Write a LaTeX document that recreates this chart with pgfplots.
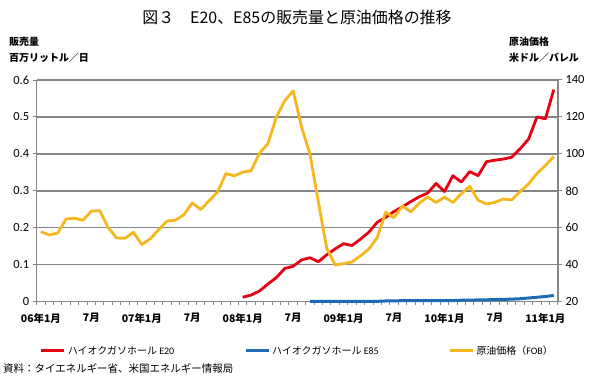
\documentclass[border=0pt]{standalone}
\usepackage{fontspec}
\usepackage{pgfplots}
\pgfplotsset{compat=1.18}
\setmainfont{Carlito}
\newfontfamily\jp{Noto Sans CJK JP}
\definecolor{e20}{RGB}{230,0,18}
\definecolor{e85}{RGB}{31,106,183}
\definecolor{oil}{RGB}{245,183,30}
\definecolor{gridgray}{RGB}{134,134,134}

\pgfplotstableread{
x v
24.5 0.012
25.5 0.018
26.5 0.029
27.5 0.048
28.5 0.065
29.5 0.090
30.5 0.096
31.5 0.113
32.5 0.119
33.5 0.108
34.5 0.127
35.5 0.143
36.5 0.157
37.5 0.152
38.5 0.169
39.5 0.188
40.5 0.215
41.5 0.228
42.5 0.244
43.5 0.257
44.5 0.271
45.5 0.284
46.5 0.294
47.5 0.320
48.5 0.298
49.5 0.341
50.5 0.324
51.5 0.352
52.5 0.341
53.5 0.379
54.5 0.383
55.5 0.386
56.5 0.391
57.5 0.414
58.5 0.440
59.5 0.500
60.5 0.495
61.5 0.574
}\eTwenty

\pgfplotstableread{
x v
32.5 0.001
33.5 0.001
34.5 0.001
35.5 0.001
36.5 0.001
37.5 0.001
38.5 0.001
39.5 0.001
40.5 0.001
41.5 0.002
42.5 0.002
43.5 0.003
44.5 0.003
45.5 0.003
46.5 0.003
47.5 0.003
48.5 0.003
49.5 0.003
50.5 0.004
51.5 0.004
52.5 0.005
53.5 0.005
54.5 0.006
55.5 0.006
56.5 0.007
57.5 0.008
58.5 0.010
59.5 0.012
60.5 0.014
61.5 0.017
}\eEightyFive

\pgfplotstableread{
x p
0.5 57.9
1.5 56.1
2.5 57.2
3.5 64.8
4.5 65.2
5.5 64.1
6.5 69.0
7.5 69.3
8.5 60.1
9.5 54.5
10.5 54.3
11.5 57.6
12.5 50.9
13.5 54.0
14.5 58.9
15.5 63.7
16.5 64.1
17.5 67.0
18.5 73.5
19.5 69.9
20.5 74.6
21.5 79.3
22.5 89.4
23.5 88.1
24.5 90.1
25.5 91.0
26.5 100.4
27.5 105.5
28.5 119.9
29.5 128.8
30.5 134.2
31.5 114.5
32.5 100.0
33.5 74.0
34.5 48.9
35.5 39.9
36.5 40.6
37.5 41.5
38.5 44.8
39.5 48.5
40.5 54.7
41.5 68.4
42.5 65.5
43.5 71.9
44.5 68.6
45.5 73.3
46.5 76.7
47.5 73.7
48.5 76.6
49.5 73.7
50.5 78.4
51.5 82.5
52.5 74.9
53.5 72.9
54.5 73.8
55.5 75.6
56.5 75.1
57.5 79.6
58.5 83.8
59.5 89.4
60.5 93.7
61.5 98.6
}\oilprice

\begin{document}
\begin{tikzpicture}
\useasboundingbox (-36.7bp,-76.3bp) rectangle (558.3bp,301.7bp);
\node[font=\jp\fontsize{16}{18}\selectfont, inner sep=0] at (260.3bp,284.7bp) {図３　E20、E85の販売量と原油価格の推移};
\node[anchor=west,font=\jp\bfseries\fontsize{10}{12}\selectfont, inner sep=0] at (-27.7bp,259.7bp) {販売量};
\node[anchor=west,font=\jp\bfseries\fontsize{10}{12}\selectfont, inner sep=0] at (-27.7bp,243.7bp) {百万リットル／日};
\node[anchor=west,font=\jp\bfseries\fontsize{10}{12}\selectfont, inner sep=0] at (472.3bp,259.7bp) {原油価格};
\node[anchor=west,font=\jp\bfseries\fontsize{10}{12}\selectfont, inner sep=0] at (472.3bp,243.7bp) {米ドル／バレル};
\node[anchor=west,font=\jp\fontsize{10.5}{12}\selectfont, inner sep=0] at (-33.7bp,-66.8bp) {資料：タイエネルギー省、米国エネルギー情報局};

\begin{axis}[
  scale only axis,
  width=521.3bp, height=221.7bp,
  xmin=0, xmax=62, ymin=0, ymax=0.6,
  axis x line*=bottom, axis y line*=left,
  axis line style={draw=gridgray, line width=1.3bp},
  ytick={0,0.1,0.2,0.3,0.4,0.5,0.6},
  yticklabels={0,0.1,0.2,0.3,0.4,0.5,0.6},
  ymajorgrids,
  major grid style={draw=gridgray, line width=1.3bp},
  xtick={0.5,6.5,12.5,18.5,24.5,30.5,36.5,42.5,48.5,54.5,60.5},
  xticklabels={06年1月,7月,07年1月,7月,08年1月,7月,09年1月,7月,10年1月,7月,11年1月},
  minor xtick={0,1,...,62},
  tick align=outside,
  major tick length=4bp, minor tick length=3.5bp,
  tick style={draw=gridgray, line width=1bp},
  major x tick style={draw=none},
  xticklabel style={font=\jp\bfseries\fontsize{10.5}{12}\selectfont, yshift=-4bp},
  yticklabel style={font=\fontsize{12.5}{14}\selectfont},
  clip=false,
]
\addplot[e20, line width=2.8bp, line join=round] table[x=x,y=v] {\eTwenty};
\addplot[e85, line width=3bp, line join=round] table[x=x,y=v] {\eEightyFive};
\end{axis}

\begin{axis}[
  scale only axis,
  width=521.3bp, height=221.7bp,
  xmin=0, xmax=62, ymin=20, ymax=140,
  axis y line*=right, axis x line=none,
  axis line style={draw=gridgray, line width=1.3bp},
  xtick=\empty,
  ytick={20,40,60,80,100,120,140},
  yticklabels={20,40,60,80,100,120,140},
  tick align=outside, major tick length=4bp,
  tick style={draw=gridgray, line width=1bp},
  yticklabel style={font=\fontsize{12.5}{14}\selectfont},
  clip=false,
  legend columns=3,
  legend style={at={(axis description cs:0.0063,-0.221)}, anchor=west,
    draw=none, fill=none, inner sep=0pt, outer sep=0pt,
    font=\fontsize{10}{12}\selectfont,
    /tikz/every even column/.append style={column sep=68bp}},
  legend image code/.code={\draw[#1] (0bp,0bp) -- (23bp,0bp);},
]
\addlegendimage{e20, line width=2.8bp}
\addlegendentry{{\jp ハイオクガソホール} E20}
\addlegendimage{e85, line width=3bp}
\addlegendentry{{\jp ハイオクガソホール} E85}
\addplot[oil, line width=2.8bp, line join=round] table[x=x,y=p] {\oilprice};
\addlegendentry{{\jp 原油価格（}FOB{\jp ）}}
\end{axis}
\end{tikzpicture}
\end{document}
